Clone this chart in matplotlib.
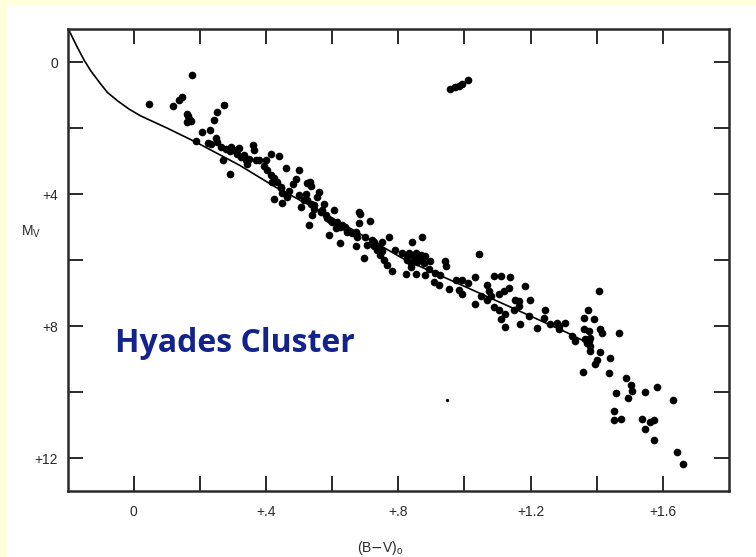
import numpy as np
import matplotlib
matplotlib.use('Agg')
import matplotlib.pyplot as plt
from matplotlib.patches import Rectangle

# Hyades main sequence stars, (B-V)0 and Mv
bv_ms = [
    0.046, 0.117, 0.137, 0.147, 0.175, 0.162, 0.167, 0.160, 0.172, 0.165,
    0.273, 0.251, 0.241, 0.207, 0.231, 0.187, 0.224, 0.248, 0.253, 0.263,
    0.278, 0.291, 0.303, 0.318, 0.313, 0.323, 0.338, 0.359, 0.362, 0.369,
    0.379, 0.399, 0.414, 0.439, 0.271, 0.290, 0.343, 0.404, 0.414, 0.424,
    0.434, 0.459, 0.499, 0.489, 0.525, 0.444, 0.449, 0.424, 0.449, 0.464,
    0.499, 0.515, 0.505, 0.419, 0.444, 0.532, 0.535, 0.560, 0.555, 0.535,
    0.545, 0.540, 0.530, 0.570, 0.580, 0.605, 0.593, 0.615, 0.610, 0.590,
    0.630, 0.646, 0.625, 0.671, 0.681, 0.685, 0.714, 0.681, 0.676, 0.671,
    0.706, 0.696, 0.726, 0.736, 0.751, 0.771, 0.746, 0.756, 0.766, 0.781,
    0.842, 0.827, 0.837, 0.852, 0.822, 0.852, 0.872, 0.847, 0.862, 0.872,
    0.857, 0.877, 0.897, 0.940, 0.943, 0.882, 0.892, 0.912, 0.927, 0.907,
    0.922, 0.953, 0.973, 0.993, 0.983, 0.993, 1.033, 1.043, 1.033, 1.069,
    1.073, 1.079, 1.069, 1.089, 1.109, 1.139, 1.134, 1.119, 1.104, 1.184,
    1.154, 1.164, 1.164, 1.199, 1.089, 1.104, 1.124, 1.109, 1.124, 1.169,
    1.194, 1.219, 1.245, 1.240, 1.285, 1.305, 1.280, 1.285, 1.325, 1.335,
    1.406, 1.373, 1.360, 1.393, 1.360, 1.376, 1.411, 1.416, 1.366, 1.376,
    1.381, 1.370, 1.381, 1.379, 1.411, 1.466, 1.441, 1.401, 1.396, 1.358,
    1.436, 1.489, 1.503, 1.506, 1.459, 1.494, 1.547, 1.582, 1.630, 1.451,
    1.451, 1.474, 1.537, 1.562, 1.572, 1.547, 1.574, 1.642, 1.660,
    0.525, 0.545, 0.565, 0.585, 0.600, 0.625, 0.646, 0.661, 0.726, 0.741,
    0.751, 0.827, 0.847, 0.837, 0.233, 0.293, 0.333, 0.348, 0.832, 0.852,
    0.867, 0.882, 0.395, 0.470, 0.480, 0.520, 0.575, 0.640, 0.700, 0.720,
    0.790, 0.810, 1.010, 1.050, 1.150, 1.260,
]
mv_ms = [
    1.27, 1.33, 1.15, 1.05, 0.40, 1.58, 1.73, 1.83, 1.78, 1.65,
    1.30, 1.50, 1.75, 2.13, 2.06, 2.38, 2.46, 2.30, 2.43, 2.58,
    2.63, 2.70, 2.68, 2.60, 2.78, 2.88, 2.98, 2.53, 2.66, 2.98,
    2.98, 2.98, 2.80, 2.85, 2.98, 3.40, 3.10, 3.28, 3.43, 3.53,
    3.64, 3.20, 3.28, 3.55, 3.68, 3.83, 3.98, 4.14, 4.27, 4.09,
    4.04, 4.19, 4.39, 3.64, 3.78, 3.64, 3.77, 3.94, 4.09, 4.29,
    4.44, 4.64, 4.94, 4.49, 4.64, 4.47, 4.79, 4.84, 5.04, 5.24,
    4.94, 5.09, 5.49, 5.14, 4.54, 4.60, 4.82, 4.89, 5.29, 5.59,
    5.54, 5.94, 5.59, 5.69, 5.44, 5.31, 5.84, 5.99, 6.14, 6.32,
    5.44, 5.99, 6.09, 6.04, 6.42, 6.42, 5.29, 5.91, 5.94, 5.99,
    6.07, 6.09, 6.04, 6.04, 6.17, 6.45, 6.27, 6.39, 6.45, 6.68,
    6.75, 6.88, 6.60, 6.62, 6.90, 7.02, 6.50, 5.82, 7.33, 6.75,
    6.95, 7.08, 7.20, 6.48, 6.48, 6.50, 6.85, 6.95, 7.02, 6.78,
    7.20, 7.25, 7.40, 7.20, 7.42, 7.50, 7.65, 7.78, 8.02, 7.95,
    7.70, 8.05, 7.52, 7.75, 8.00, 7.90, 7.90, 8.10, 8.30, 8.45,
    6.95, 7.52, 7.75, 7.80, 8.10, 8.15, 8.10, 8.20, 8.40, 8.45,
    8.35, 8.50, 8.61, 8.76, 8.79, 8.22, 8.96, 9.03, 9.16, 9.39,
    9.43, 9.59, 9.79, 9.96, 10.03, 10.19, 9.99, 9.86, 10.23, 10.59,
    10.84, 10.81, 10.81, 10.91, 10.86, 11.13, 11.45, 11.82, 12.17,
    4.19, 4.34, 4.54, 4.74, 4.84, 4.99, 5.14, 5.19, 5.44, 5.59,
    5.74, 5.89, 5.89, 6.20, 2.48, 2.58, 2.83, 2.93, 5.79, 5.79,
    5.84, 5.89, 3.15, 3.90, 3.70, 4.00, 4.30, 5.00, 5.30, 5.40,
    5.70, 5.80, 6.70, 7.10, 7.50, 7.95,
]

# red giants
bv_giants = [0.956, 0.970, 0.983, 0.993, 1.011]
mv_giants = [0.82, 0.77, 0.74, 0.67, 0.55]

# white dwarf
bv_wd = [0.948]
mv_wd = [10.23]

# zero-age main sequence curve
bv_zams = [-0.196, -0.185, -0.17, -0.15, -0.13, -0.10, -0.08, -0.05, -0.014,
           0.02, 0.10, 0.19, 0.32, 0.43, 0.55, 0.82, 1.00, 1.20, 1.31, 1.36]
mv_zams = [-0.96, -0.73, -0.43, -0.05, 0.27, 0.67, 0.92, 1.17, 1.43,
           1.63, 2.00, 2.44, 3.13, 3.80, 4.44, 5.99, 6.80, 7.70, 8.20, 8.45]

x_ticks = [0, 0.4, 0.8, 1.2, 1.6]
x_tick_labels = ['0', '+.4', '+.8', '+1.2', '+1.6']
y_ticks = [0, 4, 8, 12]
y_tick_labels = ['0', '+4', '+8', '+12']

ink = '#2a2a2a'

fig = plt.figure(figsize=(7.56, 5.57), dpi=100)
fig.patch.set_facecolor('#FFFFDC')
# white panel, leaving a thin yellow margin on the left and top
fig.patches.append(Rectangle((7 / 756, 0), 1, 1 - 5 / 557, transform=fig.transFigure,
                             facecolor='white', edgecolor='none', zorder=-10))

ax = fig.add_axes([67.7 / 756, 1 - 491 / 557, (729 - 67.7) / 756, (491 - 29) / 557])
ax.set_facecolor('white')
ax.set_zorder(1)

ax.plot(bv_zams, mv_zams, color='black', linewidth=1.2, zorder=2)
ax.plot(bv_ms, mv_ms, 'o', color='black', markersize=5.5, markeredgewidth=0, zorder=3)
ax.plot(bv_giants, mv_giants, 'o', color='black', markersize=5.5, markeredgewidth=0, zorder=3)
ax.plot(bv_wd, mv_wd, 'o', color='black', markersize=2.4, markeredgewidth=0, zorder=3)

ax.set_xlim(-0.2, 1.8)
ax.set_ylim(13, -1)

ax.set_xticks(x_ticks)
ax.set_xticklabels(x_tick_labels)
ax.set_xticks(np.arange(0.2, 1.7, 0.4), minor=True)
ax.set_yticks(y_ticks)
ax.set_yticklabels(y_tick_labels)
ax.set_yticks([2, 6, 10], minor=True)

ax.tick_params(which='both', direction='in', length=11, width=1.4, color=ink,
               top=True, right=True, labelsize=10, labelcolor=ink)
ax.tick_params(axis='x', which='major', pad=10)
ax.tick_params(axis='y', which='major', pad=7)
for lbl in ax.get_xticklabels() + ax.get_yticklabels():
    lbl.set_family('Liberation Sans')

for sp in ax.spines.values():
    sp.set_color(ink)
    sp.set_linewidth(1.8)

fig.text(380 / 756, 1 - 548 / 557, r'(B$-$V)$_\mathregular{o}$', ha='center', va='center',
         fontsize=10, color=ink, family='Liberation Sans')
fig.text(31 / 756, 1 - 232 / 557, r'M$_\mathregular{V}$', ha='center', va='center',
         fontsize=10, color=ink, family='Liberation Sans')

fig.text(115 / 756, 1 - 352 / 557, 'Hyades Cluster', ha='left', va='baseline',
         fontsize=23, fontweight='bold', color='#14238C', family='Open Sans', zorder=5)

fig.savefig('out.png', dpi=100, facecolor=fig.get_facecolor())
